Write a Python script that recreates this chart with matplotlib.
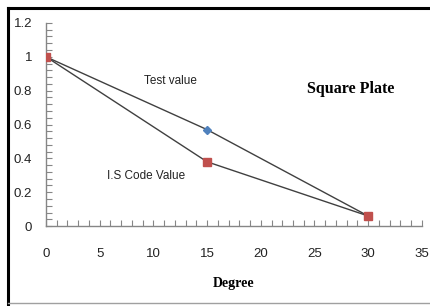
import matplotlib
matplotlib.use('Agg')
import matplotlib.pyplot as plt
from matplotlib.lines import Line2D
from matplotlib.ticker import MultipleLocator

# data
degree = [0, 15, 30]
test_value = [1.0, 0.57, 0.06]
is_code_value = [1.0, 0.38, 0.06]
x_ticks = [0, 5, 10, 15, 20, 25, 30, 35]
y_ticks = [0, 0.2, 0.4, 0.6, 0.8, 1.0, 1.2]
y_tick_labels = ['0', '0.2', '0.4', '0.6', '0.8', '1', '1.2']

plt.rcParams['font.family'] = ['Liberation Sans Narrow', 'Liberation Sans', 'DejaVu Sans']

fig = plt.figure(figsize=(4.3, 3.06), dpi=100)
ax = fig.add_axes([0.107, 0.261, 0.874, 0.664])

line_col = '#404040'
ax.plot(degree, test_value, color=line_col, lw=1.0, marker='D', ms=4.2,
        mfc='#4F81BD', mec='#4F81BD', zorder=3)
ax.plot(degree, is_code_value, color=line_col, lw=1.0, marker='s', ms=5.8,
        mfc='#C0504D', mec='#C0504D', zorder=4)

ax.set_xlim(0, 35)
ax.set_ylim(0, 1.2)
ax.set_xticks(x_ticks)
ax.set_yticks(y_ticks)
ax.set_yticklabels(y_tick_labels)
ax.xaxis.set_minor_locator(MultipleLocator(1))
ax.yaxis.set_minor_locator(MultipleLocator(0.04))

for s in ['top', 'right']:
    ax.spines[s].set_visible(False)
for s in ['left', 'bottom']:
    ax.spines[s].set_color('#868686')
    ax.spines[s].set_linewidth(1.0)

ax.tick_params(which='both', direction='in', color='#868686', length=4, width=0.8)
ax.tick_params(axis='x', which='major', pad=16, labelsize=9.5, labelcolor='#222222')
ax.tick_params(axis='y', which='major', pad=10, labelsize=9.5, labelcolor='#222222')

ax.text(11.6, 0.858, 'Test value', fontsize=8.5, ha='center', va='center', color='#222222')
ax.text(9.35, 0.296, 'I.S Code Value', fontsize=8.5, ha='center', va='center', color='#222222')
ax.text(28.4, 0.81, 'Square Plate', fontsize=11.5, fontweight='bold',
        family='Liberation Serif', ha='center', va='center')
ax.set_xlabel('Degree', fontsize=10, fontweight='bold', family='Liberation Serif', labelpad=12)

# outer frame of the chart area
fig.add_artist(Line2D([8 / 430, 8 / 430], [0, 1 - 8 / 306], transform=fig.transFigure,
                      color='black', lw=2.2))
fig.add_artist(Line2D([8 / 430, 1], [1 - 8 / 306, 1 - 8 / 306], transform=fig.transFigure,
                      color='black', lw=2.2))
fig.add_artist(Line2D([8 / 430, 1], [3 / 306, 3 / 306], transform=fig.transFigure,
                      color='#A0A0A0', lw=1.0))

fig.savefig('out.png', dpi=100)
